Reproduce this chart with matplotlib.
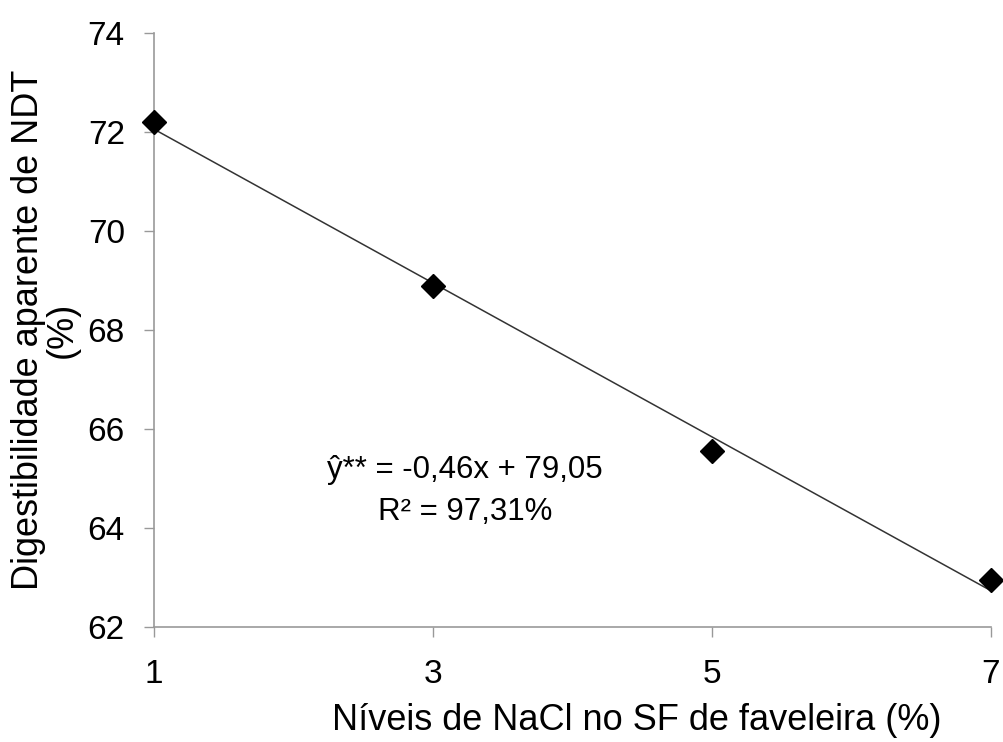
import numpy as np
import matplotlib.pyplot as plt

plt.rcParams['font.family'] = ['Liberation Sans', 'DejaVu Sans']

# niveis de NaCl (%) e digestibilidade aparente de NDT (%)
nacl = [1, 3, 5, 7]
ndt = [72.2, 68.88, 65.55, 62.95]
xticks = [1, 3, 5, 7]
yticks = [62, 64, 66, 68, 70, 72, 74]
eq_text = "ŷ** = -0,46x + 79,05\nR² = 97,31%"

fig = plt.figure(figsize=(10.04, 7.42), dpi=100)
ax = fig.add_axes([0.1534, 0.155, 0.8336, 0.8005])

# linha de tendencia
coef = np.polyfit(nacl, ndt, 1)
xl = np.array([nacl[0], nacl[-1]])
ax.plot(xl, np.polyval(coef, xl), color="#333333", lw=1.1, clip_on=False, zorder=2)
ax.plot(nacl, ndt, "D", color="black", ms=12.5, clip_on=False, zorder=3)

ax.set_xlim(1, 7)
ax.set_ylim(62, 74)
ax.set_xticks(xticks)
ax.set_yticks(yticks)
ax.tick_params(labelsize=24, length=7, width=1, color="#999999")
ax.tick_params(axis="y", pad=14)
ax.tick_params(axis="x", pad=16)
for s in ["top", "right"]:
	ax.spines[s].set_visible(False)
for s in ["left", "bottom"]:
	ax.spines[s].set_color("#999999")
	ax.spines[s].set_linewidth(1.2)

ax.set_xlabel("Níveis de NaCl no SF de faveleira (%)", fontsize=26)
ax.xaxis.set_label_coords(0.577, -0.128)
ax.set_ylabel("Digestibilidade aparente de NDT\n(%)", fontsize=26, labelpad=6, linespacing=0.95)
ax.text(3.23, 64.75, eq_text, fontsize=22.5, ha="center", va="center", linespacing=1.5)

fig.savefig("out.png", dpi=100)
